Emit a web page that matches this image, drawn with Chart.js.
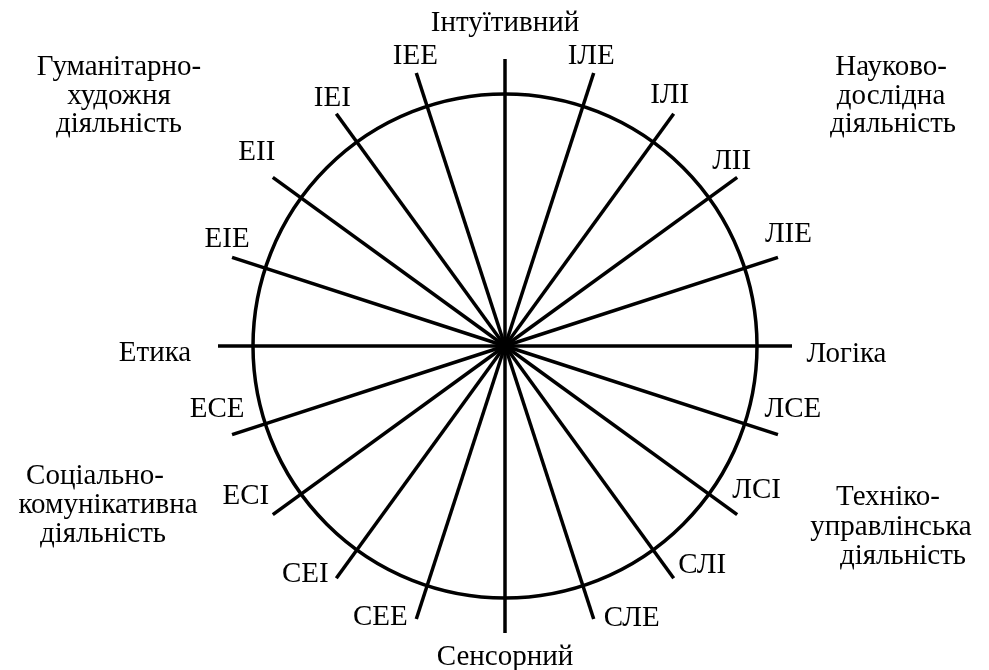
<!DOCTYPE html>
<html>
<head>
<meta charset="utf-8">
<script src="https://cdn.jsdelivr.net/npm/chart.js@4"></script>
<style>
  html, body { margin: 0; padding: 0; background: #fff; }
  #wrap { width: 989px; height: 670px; position: relative; }
</style>
</head>
<body>
<div id="wrap"><canvas id="c"></canvas></div>
<script>
// ---- data ----
const categories = ['Інтуїтивний', 'ІЛЕ', 'ІЛІ', 'ЛІІ', 'ЛІЕ', 'Логіка', 'ЛСЕ', 'ЛСІ', 'СЛІ', 'СЛЕ',
  'Сенсорний', 'СЕЕ', 'СЕІ', 'ЕСІ', 'ЕСЕ', 'Етика', 'ЕІЕ', 'ЕІІ', 'ІЕІ', 'ІЕЕ'];
const sectorTopLeft = ['Гуманітарно-', 'художня', 'діяльність'];
const sectorTopRight = ['Науково-', 'дослідна', 'діяльність'];
const sectorBottomLeft = ['Соціально-', 'комунікативна', 'діяльність'];
const sectorBottomRight = ['Техніко-', 'управлінська', 'діяльність'];
const axisMax = 287;      // outer end of the radial lines
const circleValue = 252;  // the drawn circle

// ---- layout (label nudges relative to line ends) ----
const labelNudge = [
  [0, -28], [-2.5, -9], [-4, -11], [-5.5, -8], [10.5, -15], [54.5, 16], [15, -18], [19.5, -17], [28.5, -5], [38, 7],
  [0, 32], [-36, 6], [-31, 4], [-27, -11], [-15, -18], [-63, 15], [-5, -10], [-16, -17], [-4, -8], [-1, -9]
];
const FONT = '29px "Liberation Serif", "Times New Roman", serif';
const blocks = [
  { lines: sectorTopLeft, x: [119, 119, 119], y: 75, lh: 28.5 },
  { lines: sectorTopRight, x: [891, 891, 893], y: 75, lh: 28.5 },
  { lines: sectorBottomLeft, x: [95, 108, 103], y: 484, lh: 29 },
  { lines: sectorBottomRight, x: [888, 891, 903], y: 505, lh: 29.5 }
];

const textPlugin = {
  id: 'textPlugin',
  afterDraw(chart) {
    const s = chart.scales.r;
    const ctx = chart.ctx;
    ctx.save();
    ctx.font = FONT;
    ctx.fillStyle = '#000';
    ctx.textAlign = 'center';
    ctx.textBaseline = 'alphabetic';
    categories.forEach((c, i) => {
      const p = s.getPointPosition(i, s.getDistanceFromCenterForValue(axisMax));
      ctx.fillText(c, p.x + labelNudge[i][0], p.y + labelNudge[i][1]);
    });
    blocks.forEach(b => {
      b.lines.forEach((t, k) => ctx.fillText(t, b.x[k], b.y + k * b.lh));
    });
    ctx.restore();
  }
};

new Chart(document.getElementById('c'), {
  type: 'radar',
  data: { labels: categories, datasets: [] },
  options: {
    responsive: true,
    maintainAspectRatio: false,
    animation: false,
    layout: { padding: { left: 218, right: 197, top: 59, bottom: 37 } },
    plugins: { legend: { display: false }, tooltip: { enabled: false } },
    scales: {
      r: {
        min: 0,
        max: axisMax,
        startAngle: 0,
        ticks: { display: false },
        afterBuildTicks: (sc) => { sc.ticks = [{ value: 0 }, { value: circleValue }]; },
        grid: { circular: true, color: '#000', lineWidth: 3.5 },
        angleLines: { display: true, color: '#000', lineWidth: 3.5 },
        pointLabels: { display: false }
      }
    }
  },
  plugins: [textPlugin]
});
</script>
</body>
</html>
